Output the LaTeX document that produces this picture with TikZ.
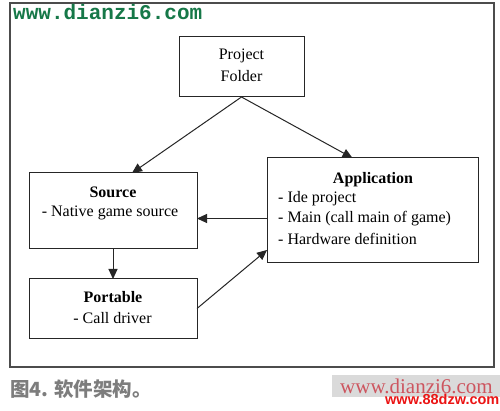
\documentclass[tikz,border=0pt]{standalone}
\usepackage{fontspec}
\setmainfont{Liberation Serif}
\newfontfamily\monob{Liberation Mono}
\newfontfamily\sansb{Liberation Sans}
\newfontfamily\cjk{Noto Sans CJK SC}
\usetikzlibrary{arrows.meta,calc}
\definecolor{titlegreen}{RGB}{22,120,72}
\definecolor{capgray}{RGB}{125,125,125}
\definecolor{wmpink}{RGB}{205,85,95}
\definecolor{wmred}{RGB}{235,20,20}
\definecolor{wmbg}{RGB}{218,218,218}
\tikzset{
  box/.style={draw=black!85, line width=1pt, inner sep=0pt, outer sep=0pt},
  txt/.style={inner sep=0pt, font=\fontsize{16}{20}\selectfont},
  arr/.style={draw=black!85, line width=1pt, -{Triangle[length=10pt,width=9pt]}},
}
\begin{document}
\begin{tikzpicture}[x=1pt,y=-1pt]
\useasboundingbox (0,0) rectangle (500,411);
\fill[white] (0,0) rectangle (500,411);
% outer frame
\draw[draw=black!70, line width=1.3pt] (10,3) rectangle (494,367);
% title
\node[anchor=west, inner sep=0pt, text=titlegreen, font=\monob\bfseries\fontsize{21}{22}\selectfont] (ttl) at (13,12) {www.dianzi6.com};
% boxes
\node[box, minimum width=125pt, minimum height=60pt] (pf) at (241.5,67) {};
\node[box, minimum width=168pt, minimum height=76pt] (src) at (113,211) {};
\node[box, minimum width=168pt, minimum height=59pt] (port) at (113,308.5) {};
\node[box, minimum width=211pt, minimum height=105pt] (app) at (372.5,210.5) {};
% texts
\node[txt] (pft1) at (241.5,56) {Project};
\node[txt] (pft2) at (241.5,76) {Folder};
\node[txt] (srct1) at (113,192) {\textbf{Source}};
\node[txt] (srct2) at (110,213) {- Native game source};
\node[txt] (pot1) at (113,297) {\textbf{Portable}};
\node[txt] (pot2) at (112.5,318) {- Call driver};
\node[txt] (apt1) at (373,180) {\textbf{Application}};
\node[txt, anchor=west] (apt2) at (278,199) {- Ide project};
\node[txt, anchor=west] (apt3) at (278,219) {- Main (call main of game)};
\node[txt, anchor=west] (apt4) at (278,239) {- Hardware definition};
% connectors
\draw[arr] (pf.south) -- ([xshift=19pt]src.north);
\draw[arr] (pf.south) -- ([xshift=-20pt]app.north);
\coordinate (a1) at ($(app.west)+(0,8)$);
\draw[arr] (a1) -- (a1 -| src.east);
\draw[arr] (src.south) -- (port.north);
\coordinate (a2) at ($(app.south west)+(0,-13)$);
\draw[arr] (port.east) -- (a2);
% caption
\node[anchor=west, inner sep=0pt, text=capgray, font=\cjk\bfseries\fontsize{19.5}{21}\selectfont] (cap) at (10,389) {图4. 软件架构。};
% watermark
\fill[wmbg] (332,375) rectangle (500,397);
\node[anchor=west, inner sep=0pt, text=wmpink, font=\fontsize{21}{22}\selectfont] (wm1) at (340,386) {www.dianzi6.com};
\node[anchor=west, inner sep=0pt, text=wmred, font=\sansb\bfseries\fontsize{14.5}{16}\selectfont] (wm2) at (385,399.5) {www.88dzw.com};
\end{tikzpicture}
\end{document}
